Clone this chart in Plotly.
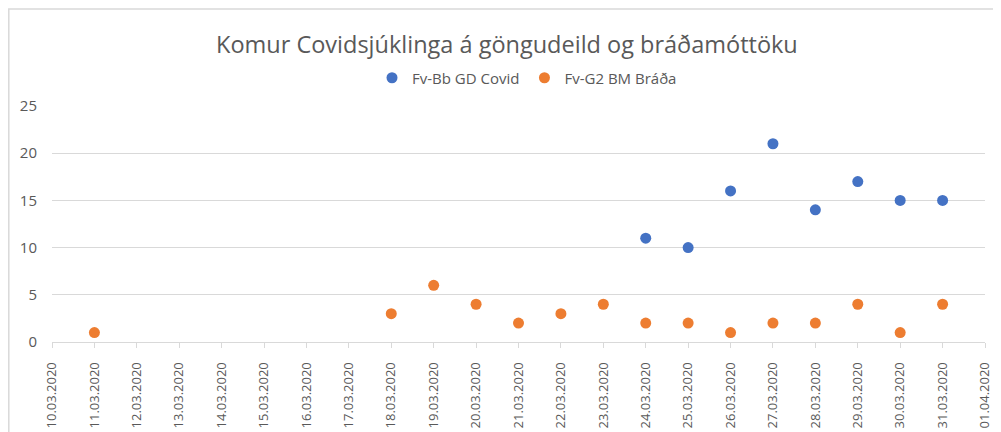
import plotly.graph_objects as go

title_text = "Komur Covidsjúklinga á göngudeild og bráðamóttöku"

covid_name = "Fv-Bb GD Covid"
covid_dates = ["2020-03-24", "2020-03-25", "2020-03-26", "2020-03-27",
               "2020-03-28", "2020-03-29", "2020-03-30", "2020-03-31"]
covid_values = [11, 10, 16, 21, 14, 17, 15, 15]

brada_name = "Fv-G2 BM Bráða"
brada_dates = ["2020-03-11", "2020-03-18", "2020-03-19", "2020-03-20",
               "2020-03-21", "2020-03-22", "2020-03-23", "2020-03-24",
               "2020-03-25", "2020-03-26", "2020-03-27", "2020-03-28",
               "2020-03-29", "2020-03-30", "2020-03-31"]
brada_values = [1, 3, 6, 4, 2, 3, 4, 2, 2, 1, 2, 2, 4, 1, 4]

x_range = ["2020-03-10", "2020-04-01"]
y_ticks = [0, 5, 10, 15, 20, 25]

W, H = 1001, 432
OFF = 8  # page body margin offset
# target plot area in screenshot pixels: x 52..985, y 106..342
ML = 52 - OFF
MT = 106 - OFF
MR = W - (985 - OFF)
MB = H - (342 - OFF)
PW = W - ML - MR
PH = H - MT - MB

FONT = "Open Sans"
GRAY = "#595959"
GRID = "#d9d9d9"

fig = go.Figure()
fig.add_trace(go.Scatter(x=covid_dates, y=covid_values, mode="markers", name=covid_name,
                         marker=dict(color="#4472C4", size=11)))
fig.add_trace(go.Scatter(x=brada_dates, y=brada_values, mode="markers", name=brada_name,
                         marker=dict(color="#ED7D31", size=11)))

def px_x(p):
    return (p - OFF - ML) / PW

def px_y(p):
    return 1 - (p - OFF - MT) / PH

fig.update_layout(
    width=W, height=H,
    margin=dict(l=ML, r=MR, t=MT, b=MB, autoexpand=False),
    paper_bgcolor="white", plot_bgcolor="white",
    font=dict(family=FONT, color=GRAY, size=14),
    showlegend=True,
    legend=dict(orientation="h", x=px_x(527), xanchor="center", y=px_y(78), yanchor="middle",
                font=dict(size=15, color=GRAY, family=FONT), itemwidth=30,
                bgcolor="rgba(0,0,0,0)"),
    annotations=[dict(text=title_text, xref="paper", yref="paper",
                      x=px_x(507), y=px_y(44), xanchor="center", yanchor="middle",
                      showarrow=False, font=dict(size=23.5, color=GRAY, family=FONT))],
    shapes=[dict(type="rect", xref="paper", yref="paper",
                 x0=px_x(8.8), x1=px_x(1020), y0=px_y(460), y1=px_y(9),
                 line=dict(color=GRID, width=1.5), layer="below")],
)

fig.update_xaxes(
    type="date", range=x_range, dtick=86400000, tick0="2020-03-10",
    tickformat="%d.%m.%Y", tickangle=-90,
    showgrid=False, zeroline=False,
    showline=True, linecolor=GRID, linewidth=1,
    ticks="outside", ticklen=5, tickcolor=GRID, tickwidth=1,
    tickfont=dict(size=13, color=GRAY, family=FONT),
    ticklabelstandoff=9, automargin=False,
)
fig.update_yaxes(
    range=[0, 25], tickvals=y_ticks, showgrid=True, gridcolor=GRID, gridwidth=1,
    zeroline=False, showline=False, ticks="",
    tickfont=dict(size=15, color=GRAY, family=FONT),
    ticklabelstandoff=14, automargin=False,
)

fig.write_html("out.html")
